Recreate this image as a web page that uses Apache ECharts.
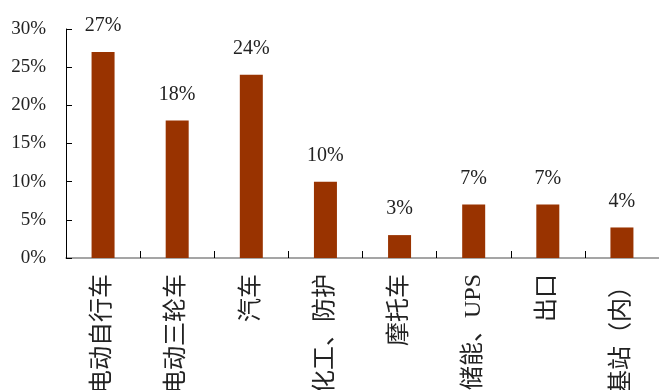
<!DOCTYPE html>
<html>
<head>
<meta charset="utf-8">
<script src="https://cdn.jsdelivr.net/npm/echarts@6/dist/echarts.min.js"></script>
<style>
html,body{margin:0;padding:0;background:#fff;}
#c{width:659px;height:390px;}
</style>
</head>
<body>
<div id="c"></div>
<script>
var categories = ['电动自行车', '电动三轮车', '汽车', '化工、防护', '摩托车', '储能、UPS', '出口', '基站（内）'];
var values = [27, 18, 24, 10, 3, 7, 7, 4];
var yTicks = [0, 5, 10, 15, 20, 25, 30];

var serif = "'Liberation Serif', 'DejaVu Serif', 'Noto Sans CJK SC', serif";
var chart = echarts.init(document.getElementById('c'), null, {renderer: 'canvas'});
chart.setOption({
  animation: false,
  grid: {left: 66, right: 0, top: 29, bottom: 132, containLabel: false, outerBoundsMode: 'none'},
  xAxis: {
    type: 'category',
    data: categories,
    axisLine: {lineStyle: {color: '#888', width: 1.5}},
    axisTick: {show: true, inside: true, length: 7, alignWithLabel: false, lineStyle: {color: '#000', width: 1}},
    axisLabel: {rotate: 90, margin: 16, fontSize: 24, color: '#222', fontFamily: serif, interval: 0}
  },
  yAxis: {
    type: 'value',
    min: yTicks[0],
    max: yTicks[yTicks.length - 1],
    interval: 5,
    splitLine: {show: false},
    axisLine: {show: true, lineStyle: {color: '#000', width: 1}},
    axisTick: {show: true, inside: true, length: 6, lineStyle: {color: '#000'}},
    axisLabel: {margin: 20, fontSize: 19, color: '#222', fontFamily: serif, formatter: '{value}%'}
  },
  series: [{
    type: 'bar',
    data: values,
    barWidth: 23,
    itemStyle: {color: '#993300'},
    label: {show: true, position: 'top', distance: 16, fontSize: 20, color: '#222', fontFamily: serif, formatter: '{c}%'}
  }]
});
</script>
</body>
</html>
